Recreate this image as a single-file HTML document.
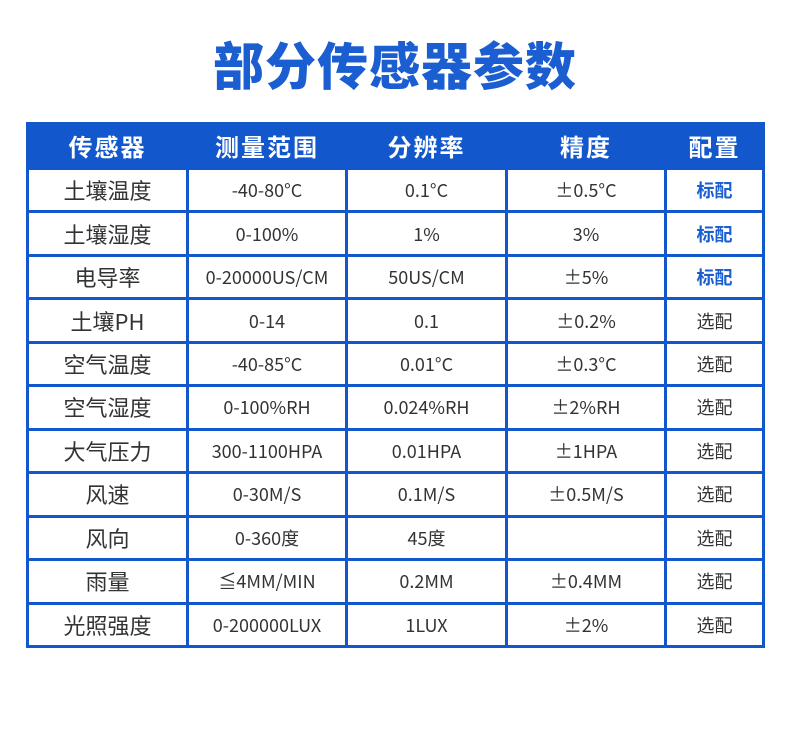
<!DOCTYPE html>
<html><head><meta charset="utf-8"><style>
body{margin:0;width:790px;height:753px;background:#fff;position:relative;overflow:hidden;font-family:"Noto Sans CJK SC","Liberation Sans",sans-serif}
h1{position:absolute;top:30px;left:0;width:790px;margin:0;text-align:center;font-size:51px;line-height:66px;color:#1a5ed2;font-weight:900;letter-spacing:1px}
.t{position:absolute;left:26px;top:122px;width:733px;height:520px;background:#1357cc;padding:3px;display:grid;grid-template-columns:157px 156px 157px 156px 95px;grid-template-rows:42px repeat(11,1fr);gap:3px}
.t div{background:#fff;display:flex;align-items:center;justify-content:center;color:#333;font-size:18px;line-height:1}
.t .h{background:#1357cc;color:#fff;font-size:24px;font-weight:bold;letter-spacing:2px}
.t .n{font-size:22px;color:#333}
.t .b{color:#1a5ed2;font-weight:bold}
</style></head><body>
<h1>部分传感器参数</h1>
<div class="t">
<div class="h">传感器</div><div class="h">测量范围</div><div class="h">分辨率</div><div class="h">精度</div><div class="h">配置</div>
<div class="n">土壤温度</div><div>-40-80°C</div><div>0.1°C</div><div>±0.5°C</div><div class="b">标配</div>
<div class="n">土壤湿度</div><div>0-100%</div><div>1%</div><div>3%</div><div class="b">标配</div>
<div class="n">电导率</div><div>0-20000US/CM</div><div>50US/CM</div><div>±5%</div><div class="b">标配</div>
<div class="n">土壤PH</div><div>0-14</div><div>0.1</div><div>±0.2%</div><div>选配</div>
<div class="n">空气温度</div><div>-40-85°C</div><div>0.01°C</div><div>±0.3°C</div><div>选配</div>
<div class="n">空气湿度</div><div>0-100%RH</div><div>0.024%RH</div><div>±2%RH</div><div>选配</div>
<div class="n">大气压力</div><div>300-1100HPA</div><div>0.01HPA</div><div>±1HPA</div><div>选配</div>
<div class="n">风速</div><div>0-30M/S</div><div>0.1M/S</div><div>±0.5M/S</div><div>选配</div>
<div class="n">风向</div><div>0-360度</div><div>45度</div><div></div><div>选配</div>
<div class="n">雨量</div><div>≦4MM/MIN</div><div>0.2MM</div><div>±0.4MM</div><div>选配</div>
<div class="n">光照强度</div><div>0-200000LUX</div><div>1LUX</div><div>±2%</div><div>选配</div>
</div>
</body></html>
